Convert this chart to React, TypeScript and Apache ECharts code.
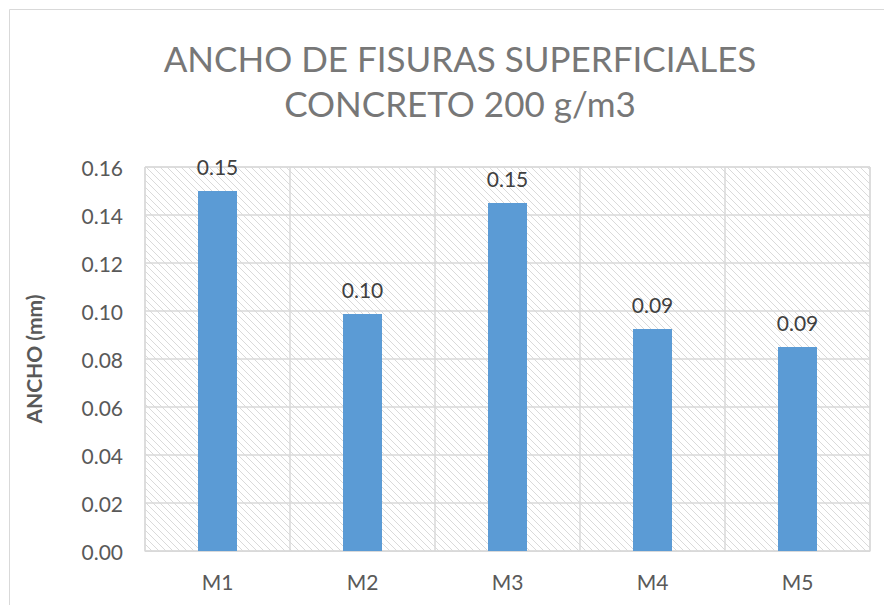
import React, { useEffect, useRef } from "react";
import * as echarts from "echarts";

const categories = ["M1", "M2", "M3", "M4", "M5"];
const values = [0.15, 0.0988, 0.145, 0.0925, 0.085];
const titleLines = ["ANCHO DE FISURAS SUPERFICIALES", "CONCRETO 200 g/m3"];
const yAxisName = "ANCHO (mm)";
const yMin = 0;
const yMax = 0.16;
const yInterval = 0.02;

function makeHatch(): HTMLCanvasElement {
  const size = 7;
  const c = document.createElement("canvas");
  c.width = size;
  c.height = size;
  const ctx = c.getContext("2d")!;
  ctx.fillStyle = "#ffffff";
  ctx.fillRect(0, 0, size, size);
  ctx.strokeStyle = "#dadada";
  ctx.lineWidth = 1;
  ctx.beginPath();
  ctx.moveTo(-1, -1);
  ctx.lineTo(size + 1, size + 1);
  ctx.moveTo(-1, size - 1);
  ctx.lineTo(1, size + 1);
  ctx.moveTo(size - 1, -1);
  ctx.lineTo(size + 1, 1);
  ctx.stroke();
  return c;
}

const fmt = (v: number) => (v + 1e-9).toFixed(2);

export default function App() {
  const ref = useRef<HTMLDivElement>(null);
  useEffect(() => {
    document.body.style.margin = "0";
    const chart = echarts.init(ref.current!, null, { renderer: "svg" });
    const hatch = makeHatch();
    const font = "Lato, 'Open Sans', sans-serif";
    chart.setOption({
      animation: false,
      backgroundColor: "#ffffff",
      title: {
        text: titleLines.join("\n"),
        left: 455,
        textAlign: "center",
        top: 30,
        textStyle: {
          fontFamily: font,
          fontSize: 35,
          fontWeight: "normal",
          color: "#777777",
          lineHeight: 45,
        },
      },
      graphic: [
        {
          type: "rect",
          shape: { x: 9.5, y: 9.5, width: 900, height: 700 },
          style: { fill: "none", stroke: "#d9d9d9", lineWidth: 1 },
          silent: true,
          z: -10,
        },
      ],
      grid: {
        left: 145,
        right: 14,
        top: 167,
        bottom: 54,
        show: true,
        backgroundColor: {
          image: hatch,
          repeat: "repeat",
          imageWidth: 7,
          imageHeight: 7,
        } as any,
        borderColor: "#d9d9d9",
        borderWidth: 1,
      },
      xAxis: {
        type: "category",
        data: categories,
        axisLine: { show: true, lineStyle: { color: "#d9d9d9", width: 1 } },
        axisTick: { show: false },
        splitLine: { show: true, lineStyle: { color: "#d9d9d9", width: 1.5 } },
        axisLabel: {
          color: "#595959",
          fontFamily: font,
          fontSize: 21,
          margin: 20,
        },
      },
      yAxis: {
        type: "value",
        min: yMin,
        max: yMax,
        interval: yInterval,
        name: yAxisName,
        nameLocation: "middle",
        nameGap: 101,
        nameTextStyle: {
          color: "#595959",
          fontFamily: font,
          fontSize: 21,
          fontWeight: "bold",
        },
        axisLine: { show: false },
        axisTick: { show: false },
        splitLine: { show: true, lineStyle: { color: "#d9d9d9", width: 1.5 } },
        axisLabel: {
          color: "#595959",
          fontFamily: font,
          fontSize: 21,
          margin: 22,
          formatter: (v: number) => v.toFixed(2),
        },
      },
      series: [
        {
          type: "bar",
          data: values,
          barWidth: 39,
          itemStyle: { color: "#5b9bd5" },
          label: {
            show: true,
            position: "top",
            distance: 14,
            color: "#404040",
            fontFamily: font,
            fontSize: 21,
            formatter: (p: any) => fmt(p.value as number),
          },
        },
      ],
    });
    return () => chart.dispose();
  }, []);
  return <div ref={ref} style={{ width: 884, height: 605 }} />;
}
